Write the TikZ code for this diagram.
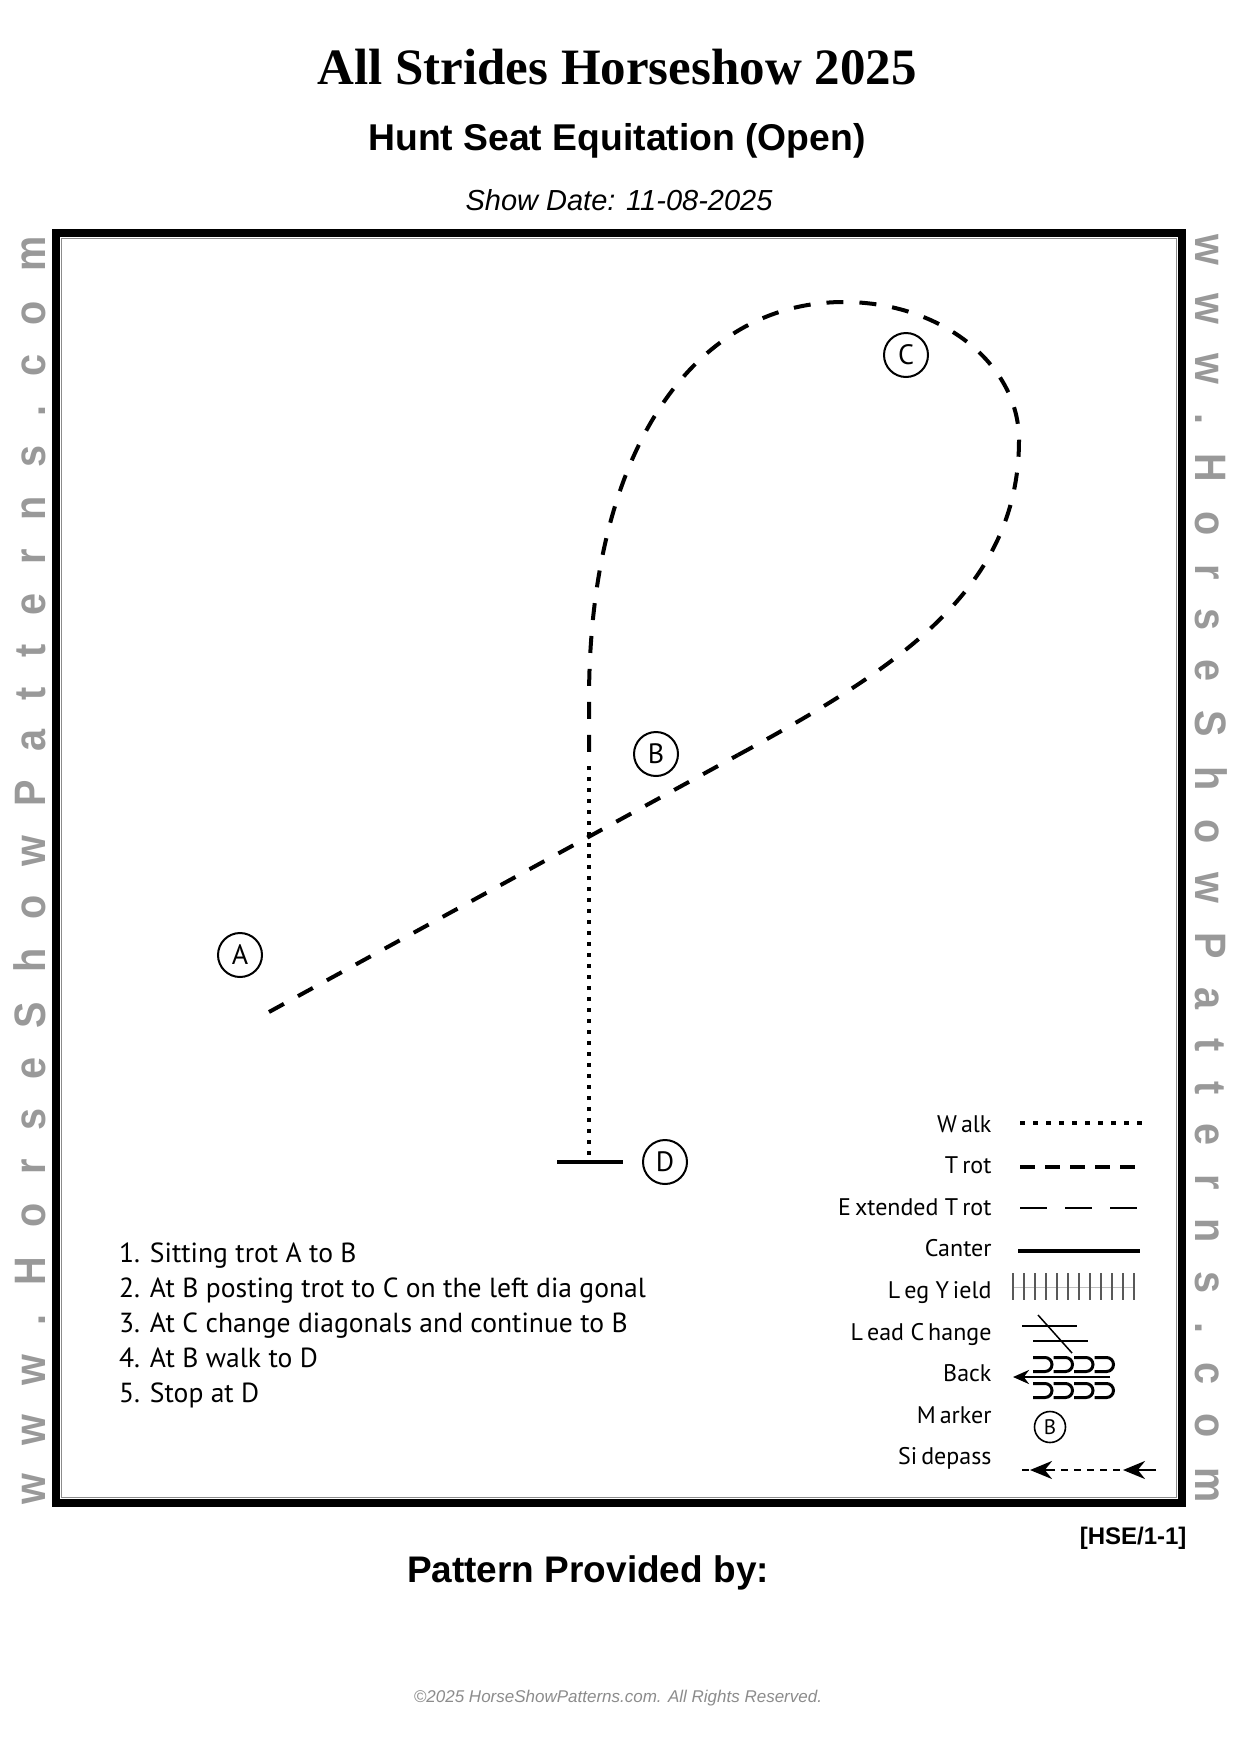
\documentclass[tikz,border=0pt]{standalone}
\usepackage{fontspec}
\usepackage{tikz}
\usetikzlibrary{arrows.meta}
\setmainfont{Liberation Sans}
\newfontfamily\timesfont{Liberation Serif}
\newfontfamily\myriadfont{PT Sans}
\newfontfamily\wmfont[FakeStretch=0.9]{Liberation Sans}
\newcommand{\wmgap}{29pt}

\begin{document}
\begin{tikzpicture}[
    x=1pt, y=-1pt,
    trot/.style={
        line width=4pt,
        dash pattern=on 17pt off 16pt
    },
    walk/.style={
        line width=4pt,
        dash pattern=on 4pt off 7pt
    },
    marker/.style={
        circle,
        draw,
        line width=2pt,
        minimum size=44pt,
        inner sep=0pt,
        font=\myriadfont\fontsize{28}{28}\selectfont
    },
    legendlbl/.style={
        anchor=base east,
        font=\myriadfont\fontsize{24}{24}\selectfont
    },
    watermark/.style={
        anchor=base west,
        inner sep=0pt,
        text=black!40,
        font=\wmfont\bfseries\fontsize{44}{44}\selectfont
    },
    backstroke/.style={
        line width=3pt
    }
]

% page
\fill[white] (0,0) rectangle (1241,1740);
\useasboundingbox (0,0) rectangle (1241,1740);

% === HEADER ===
\node[font=\timesfont\bfseries\fontsize{51}{51}\selectfont] (title) at (617,67) {All Strides Horseshow 2025};
\node[font=\bfseries\fontsize{37.3}{37.3}\selectfont] (subtitle) at (617,141) {Hunt Seat Equitation (Open)};
\node[font=\itshape\fontsize{29}{29}\selectfont] (showdate) at (619,200) {Show Date: 11-08-2025};

% === ARENA ===
\draw[line width=8pt] (56,233) rectangle (1182,1503);
\draw[black!45, line width=1.5pt] (61.5,238.5) rectangle (1176.5,1497.5);

% side text
\node[watermark, rotate=90] (siteL) at (45,1505)
    {\foreach \ch in {w,w,w,.,H,o,r,s,e,S,h,o,w,P,a,t,t,e,r,n,s,.,c,o,m}{\ch\kern\wmgap}};
\node[watermark, rotate=-90] (siteR) at (1195,234)
    {\foreach \ch in {w,w,w,.,H,o,r,s,e,S,h,o,w,P,a,t,t,e,r,n,s,.,c,o,m}{\ch\kern\wmgap}};

% === MARKERS ===
\node[marker] (mA) at (240,955) {A};
\node[marker] (mB) at (656,754) {B};
\node[marker] (mC) at (906,355) {C};
\node[marker] (mD) at (665,1162) {D};

% === PATTERN ===
\coordinate (trotStart) at (269,1012);
\coordinate (postStart) at (738,755);
\coordinate (loopRight) at (1019,440);
\coordinate (loopTop) at (844,302);
\coordinate (loopLeft) at (589,700);
\coordinate (walkStart) at (589,766);
\coordinate (stopPt) at (589,1162);
\coordinate (stopL) at (557,1162);
\coordinate (stopR) at (623,1162);

% 1. Sitting trot A to B
\draw[trot] (trotStart) -- (postStart);

% 2./3. Posting trot round C and back to B
\draw[trot] (postStart) .. controls (896,669) and (1019,590) .. (loopRight)
    .. controls (1019,364) and (941,302) .. (loopTop)
    .. controls (694,302) and (589,450) .. (loopLeft) -- (walkStart);

% 4. Walk to D
\draw[walk] (walkStart) -- (stopPt);

% 5. Stop
\draw[line width=4pt] (stopL) -- (stopR);

% === INSTRUCTIONS ===
\node[anchor=north west, align=left, inner sep=0pt,
      font=\myriadfont\fontsize{27.6}{34.8}\selectfont] (steps) at (119,1243)
    {1. Sitting trot A to B\\
     2. At B posting trot to C on the left dia gonal\\
     3. At C change diagonals and continue to B\\
     4. At B walk to D\\
     5. Stop at D};

% === LEGEND ===
\foreach \lbl [count=\i] in {W\,alk, T\,rot, E\,xtended T\,rot, Canter, L\,eg Y\,ield,
                             L\,ead C\,hange, Back, M\,arker, Si\,depass} {
    \node[legendlbl] (lgd\i) at (995,{1132+41.6*(\i-1)}) {\lbl};
}

% walk
\draw[line width=4pt, dash pattern=on 4.5pt off 8.5pt] (1020,1123) -- (1142,1123);
% trot
\draw[line width=3.5pt, dash pattern=on 15pt off 10pt] (1020,1167) -- (1140,1167);
% extended trot
\draw[line width=1.5pt, dash pattern=on 27pt off 18pt] (1020,1208) -- (1137,1208);
% canter
\draw[line width=4pt] (1018,1251) -- (1140,1251);
% leg yield
\draw[black!25, line width=0.6pt] (1013,1287) -- (1135,1287);
\foreach \k in {0,...,11} {
    \draw[black!65, line width=1.3pt] ({1013+11*\k},1273) -- ++(0,27);
}
% lead change
\draw[line width=1.5pt] (1022,1326) -- (1077,1326);
\draw[line width=1.5pt] (1033,1341) -- (1088,1341);
\draw[line width=1.5pt] (1038,1315) -- (1072,1353);
% back
\draw[-{Stealth[length=16pt,width=14pt]}, line width=2.7pt] (1110,1377) -- (1013,1377);
\foreach \k in {0,...,3} {
    \draw[backstroke] ({1033+20.5*\k},1357.5) -- ++(12,0) arc[start angle=-90, end angle=90, radius=7] -- ++(-12,0);
    \draw[backstroke] ({1033+20.5*\k},1383.5) -- ++(12,0) arc[start angle=-90, end angle=90, radius=7] -- ++(-12,0);
}
% marker
\node[marker, minimum size=31pt, line width=1.6pt, font=\myriadfont\fontsize{21}{21}\selectfont] (lgdB) at (1050,1427) {B};
% sidepass
\draw[line width=2.5pt, dash pattern=on 7pt off 6pt] (1022,1470) -- (1150,1470);
\draw[-{Stealth[length=22pt,width=18pt]}, line width=2.5pt] (1055,1470) -- (1030,1470);
\draw[-{Stealth[length=22pt,width=18pt]}, line width=2.5pt] (1156,1470) -- (1123,1470);

% === FOOTER ===
\node[anchor=east, font=\bfseries\fontsize{24}{24}\selectfont] (code) at (1190,1538) {[HSE/1-1]};
\node[font=\bfseries\fontsize{37}{37}\selectfont] (provided) at (588,1573) {Pattern Provided by:};
\node[text=black!45, font=\itshape\fontsize{17}{17}\selectfont] (copyright) at (618,1698) {©2025 HorseShowPatterns.com. All Rights Reserved.};

\end{tikzpicture}
\end{document}
